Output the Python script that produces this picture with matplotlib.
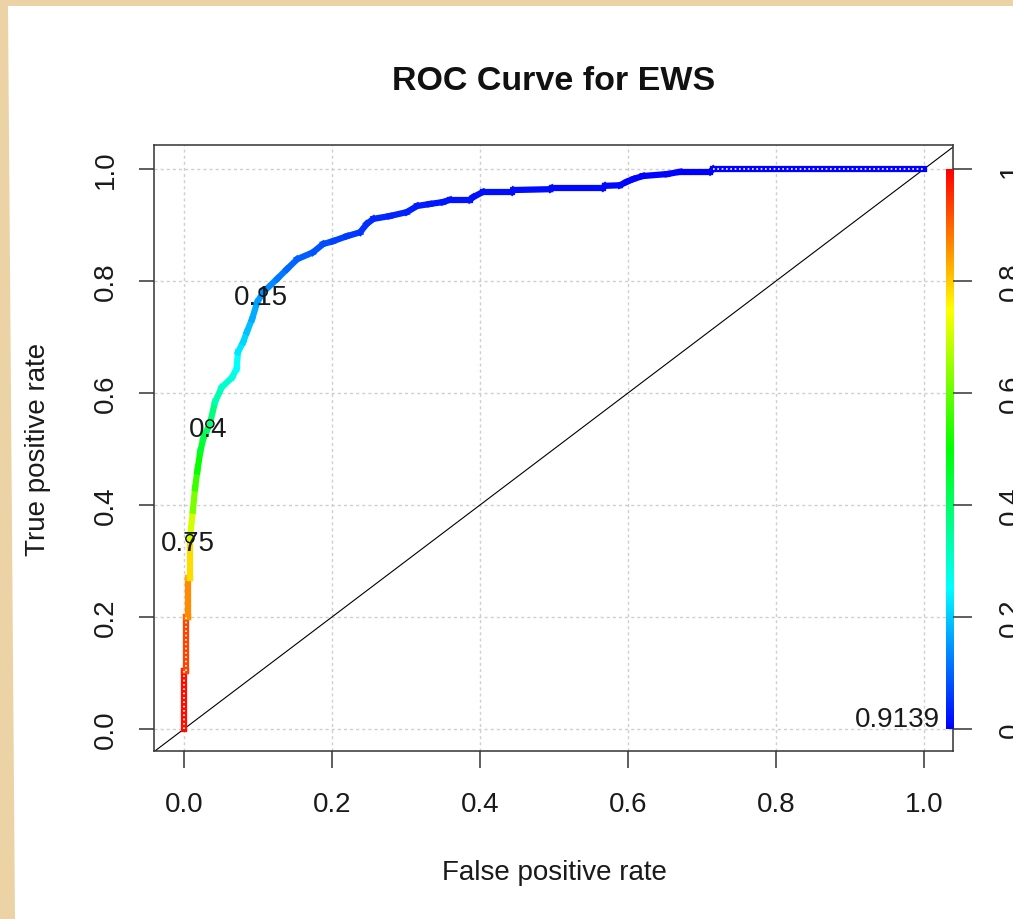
import colorsys
import numpy as np
import matplotlib
matplotlib.use("Agg")
import matplotlib.pyplot as plt
from matplotlib.collections import LineCollection
from matplotlib.colors import ListedColormap
from matplotlib.patches import Polygon

plt.rcParams['font.family'] = ['Liberation Sans', 'DejaVu Sans']

# ---------------- data ----------------
fpr = [0, 0, 0.003, 0.003, 0.005, 0.005, 0.008, 0.008, 0.012, 0.015, 0.018, 0.022, 0.026, 0.030,
       0.035, 0.042, 0.051, 0.065, 0.071, 0.073, 0.080, 0.085, 0.092, 0.099, 0.107, 0.126, 0.139,
       0.153, 0.174, 0.188, 0.201, 0.220, 0.238, 0.247, 0.256, 0.278, 0.301, 0.315, 0.332, 0.350,
       0.359, 0.386, 0.391, 0.404, 0.443, 0.445, 0.495, 0.497, 0.566, 0.569, 0.589, 0.598, 0.607,
       0.620, 0.653, 0.670, 0.711, 0.715, 1.0]
tpr = [0, 0.104, 0.104, 0.2, 0.2, 0.27, 0.27, 0.34, 0.39, 0.43, 0.46, 0.495, 0.518, 0.53,
       0.545, 0.584, 0.61, 0.628, 0.643, 0.673, 0.691, 0.709, 0.732, 0.762, 0.780, 0.804, 0.821,
       0.839, 0.851, 0.866, 0.871, 0.880, 0.887, 0.902, 0.911, 0.916, 0.923, 0.934, 0.9375, 0.941,
       0.945, 0.945, 0.95, 0.959, 0.959, 0.9625, 0.964, 0.966, 0.966, 0.970, 0.971, 0.977, 0.982,
       0.9875, 0.991, 0.995, 0.995, 1.0, 1.0]
cutoffs = [1.0, 0.97, 0.96, 0.9, 0.89, 0.83, 0.82, 0.75, 0.66, 0.58, 0.53, 0.48, 0.44, 0.42,
           0.40, 0.35, 0.31, 0.29, 0.27, 0.24, 0.22, 0.20, 0.18, 0.16, 0.15, 0.13, 0.11,
           0.10, 0.09, 0.08, 0.07, 0.06, 0.055, 0.05, 0.045, 0.04, 0.035, 0.03, 0.028, 0.026,
           0.024, 0.022, 0.02, 0.018, 0.016, 0.015, 0.013, 0.012, 0.011, 0.01, 0.009, 0.008, 0.007,
           0.006, 0.005, 0.004, 0.003, 0.002, 0.0]
label_cutoffs = [0.75, 0.4, 0.15]
label_texts = ["0.75", "0.4", "0.15"]
auc_text = "0.9139"
x_ticks = [0, 0.2, 0.4, 0.6, 0.8, 1.0]
x_ticklabels = ["0.0", "0.2", "0.4", "0.6", "0.8", "1.0"]
y_ticks = [0, 0.2, 0.4, 0.6, 0.8, 1.0]
y_ticklabels = ["0.0", "0.2", "0.4", "0.6", "0.8", "1.0"]
cb_ticks = [0, 0.2, 0.4, 0.6, 0.8, 1.0]
cb_ticklabels = ["0", "0.2", "0.4", "0.6", "0.8", "1"]
dotted_segments = [(0, 1), (2, 3), (57, 58)]

# ---------------- style ----------------
cmap = ListedColormap([colorsys.hsv_to_rgb((1 - v) * 4 / 6, 1, 1) for v in np.linspace(0, 1, 256)])
W, H = 1013, 920
fig = plt.figure(figsize=(W / 100, H / 100), dpi=100)
fig.patch.set_facecolor('#EBD3A6')
fig.add_artist(Polygon([(8 / W, 1 - 7 / H), (1, 1 - 7 / H), (1, 0), (15 / W, 0)],
                       closed=True, transform=fig.transFigure, facecolor='white',
                       edgecolor='none', zorder=-10))

ax = fig.add_axes([154 / W, 1 - 752 / H, (953 - 154) / W, (752 - 146) / H])
ax.set_facecolor('white')
xlim = (-0.0405, 1.0392)
ylim = (-0.0393, 1.0429)

ax.set_xticks(x_ticks)
ax.set_xticklabels(x_ticklabels)
ax.set_yticks(y_ticks)
ax.set_yticklabels(y_ticklabels)
ax.grid(True, color='#CFCFCF', linestyle=(0, (2.2, 2.2)), linewidth=1.0)
ax.set_axisbelow(True)

ax.axline((0, 0), (1, 1), color='black', lw=0.8, zorder=2)

pts = np.column_stack([fpr, tpr])
segs = np.stack([pts[:-1], pts[1:]], axis=1)
cvals = (np.array(cutoffs[:-1]) + np.array(cutoffs[1:])) / 2
lc = LineCollection(segs, colors=cmap(cvals), linewidths=4.5, capstyle='projecting', zorder=3)
ax.add_collection(lc)

for a, b in dotted_segments:
    ax.plot([fpr[a], fpr[b]], [tpr[a], tpr[b]], color='white', lw=1.2,
            linestyle=(0, (1, 1.6)), zorder=3.5)

cut_arr = np.array(cutoffs)
for c, t in zip(label_cutoffs, label_texts):
    i = int(np.argmin(np.abs(cut_arr - c)))
    ax.scatter([fpr[i]], [tpr[i]], s=34, facecolors='none', edgecolors='black',
               linewidths=1.0, zorder=4)
    ax.annotate(t, (fpr[i], tpr[i]), xytext=(-1.5, -3.5), textcoords='offset points',
                ha='center', va='center', fontsize=20, color='#1a1a1a', zorder=5)

ax.text(1.0216, 0.018, auc_text, ha='right', va='center', fontsize=20, color='#1a1a1a', zorder=5)

ax.imshow(np.linspace(0, 1, 256)[:, None], extent=[1.0297, 1.0392, 0, 1], origin='lower',
          aspect='auto', cmap=cmap, zorder=3)

ax.set_xlim(*xlim)
ax.set_ylim(*ylim)

for s in ax.spines.values():
    s.set_color('#333333')
    s.set_linewidth(1.1)
ax.tick_params(axis='x', direction='out', length=12, width=1.1, color='#333333',
               labelsize=20, pad=17, labelcolor='#1a1a1a')
ax.tick_params(axis='y', direction='out', length=11, width=1.1, color='#333333',
               labelsize=20, pad=14, labelcolor='#1a1a1a', labelrotation=90)
for lab in ax.get_yticklabels():
    lab.set_va('center')

ax2 = ax.twinx()
ax2.set_ylim(*ylim)
ax2.set_yticks(cb_ticks)
ax2.set_yticklabels(cb_ticklabels)
ax2.tick_params(axis='y', direction='out', length=14, width=1.1, color='#333333',
                labelsize=20, pad=18, labelcolor='#1a1a1a', labelrotation=90)
for lab in ax2.get_yticklabels():
    lab.set_va('center')
for s in ax2.spines.values():
    s.set_visible(False)

fig.text(554 / W, 1 - 82 / H, "ROC Curve for EWS", ha='center', va='center',
         fontsize=24.5, fontweight='bold', color='#111111')
fig.text(554 / W, 1 - 873 / H, "False positive rate", ha='center', va='center',
         fontsize=20, color='#1a1a1a')
fig.text(38 / W, 1 - 449 / H, "True positive rate", ha='center', va='center',
         fontsize=20, color='#1a1a1a', rotation=90)

fig.savefig("out.png", dpi=100, facecolor=fig.get_facecolor())
